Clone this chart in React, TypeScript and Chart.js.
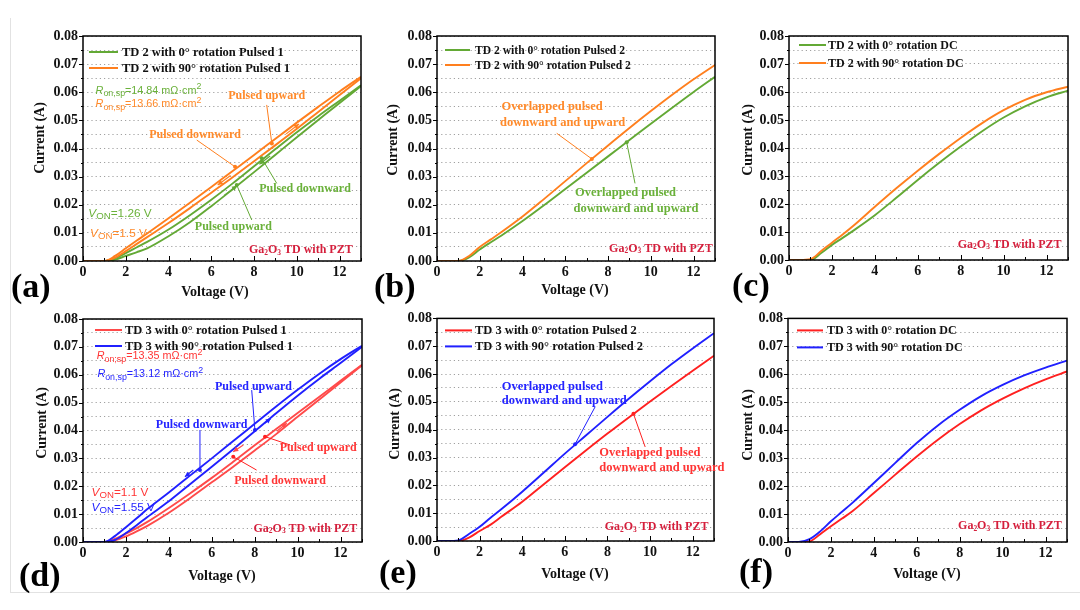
import { useEffect, useRef } from 'react';
import { Chart, registerables } from 'chart.js';

Chart.register(...registerables);

const SERIF = "'Liberation Serif', 'Times New Roman', serif";
const SANS = "'Liberation Sans', Arial, sans-serif";

const GREEN = '#63a935';
const ORANGE = '#ff7f1e';
const RED_D = '#ff4a4a';
const RED = '#ff2020';
const BLUE = '#2020ff';
const CRIMSON = '#d51f3c';
const GREEN_TXT = '#6ab13a';
const ORANGE_TXT = '#ff8a2a';
const RED_TXT = '#ff3535';
const BLUE_TXT = '#2424ff';

// ---------- data ----------
const VOLTAGE = [0, 0.5, 1, 1.5, 2, 2.5, 3, 4, 5, 6, 7, 8, 9, 10, 11, 12, 13];
const X_TICK_STEP = 2;
const Y_MAX = 0.08;

// (a) TD 2, Pulsed 1
const A_TD2_0_UP = [0, 0, 0, 0.0005, 0.0018, 0.0031, 0.0045, 0.0088, 0.0138, 0.0195, 0.0255, 0.0316, 0.0378, 0.044, 0.0501, 0.0562, 0.0622];
const A_TD2_0_DOWN = [0, 0, 0, 0.001, 0.0028, 0.0048, 0.0068, 0.0112, 0.0163, 0.0218, 0.0276, 0.0337, 0.0398, 0.0458, 0.0515, 0.057, 0.0625];
const A_TD2_90_UP = [0, 0, 0, 0.0012, 0.0035, 0.006, 0.0085, 0.0135, 0.0188, 0.0243, 0.0298, 0.0355, 0.0412, 0.047, 0.053, 0.059, 0.065];
const A_TD2_90_DOWN = [0, 0, 0, 0.0018, 0.0045, 0.0072, 0.0098, 0.0152, 0.0207, 0.0263, 0.032, 0.0377, 0.0435, 0.0492, 0.0548, 0.0603, 0.0655];
// (b) TD 2, Pulsed 2
const B_TD2_0 = [0, 0, 0, 0.0013, 0.0041, 0.0066, 0.009, 0.0142, 0.0198, 0.0256, 0.0314, 0.0372, 0.043, 0.0488, 0.0545, 0.0601, 0.0655];
const B_TD2_90 = [0, 0, 0, 0.0018, 0.005, 0.0076, 0.0102, 0.0158, 0.022, 0.0284, 0.0348, 0.0411, 0.0473, 0.0533, 0.0591, 0.0646, 0.0697];
// (c) TD 2, DC
const C_TD2_0 = [0, 0, 0, 0.0025, 0.0054, 0.0079, 0.0105, 0.016, 0.0222, 0.0286, 0.0347, 0.0405, 0.046, 0.0509, 0.0549, 0.0581, 0.0605];
const C_TD2_90 = [0, 0, 0.0003, 0.0032, 0.0062, 0.0091, 0.0122, 0.019, 0.0256, 0.0319, 0.0379, 0.0436, 0.0489, 0.0535, 0.0572, 0.0599, 0.0619];
// (d) TD 3, Pulsed 1
const D_TD3_0_UP = [0, 0, 0, 0.0006, 0.002, 0.0038, 0.0058, 0.0105, 0.0158, 0.0214, 0.027, 0.0328, 0.0387, 0.0449, 0.051, 0.0572, 0.0634];
const D_TD3_0_DOWN = [0, 0, 0, 0.0012, 0.003, 0.005, 0.0072, 0.0122, 0.0175, 0.023, 0.0288, 0.0347, 0.0405, 0.0463, 0.052, 0.0578, 0.0636];
const D_TD3_90_UP = [0, 0, 0, 0.0008, 0.0032, 0.006, 0.009, 0.0146, 0.0208, 0.027, 0.0333, 0.0397, 0.0462, 0.0525, 0.0585, 0.0642, 0.07];
const D_TD3_90_DOWN = [0, 0, 0, 0.0022, 0.0053, 0.0085, 0.0118, 0.0178, 0.0239, 0.03, 0.0362, 0.0424, 0.0486, 0.0546, 0.0603, 0.0656, 0.0704];
// (e) TD 3, Pulsed 2
const E_TD3_0 = [0, 0, 0, 0.0012, 0.0036, 0.0058, 0.0086, 0.0141, 0.0203, 0.0265, 0.0326, 0.0386, 0.0444, 0.0501, 0.0557, 0.0612, 0.0666];
const E_TD3_90 = [0, 0, 0.0002, 0.0025, 0.0051, 0.0083, 0.0113, 0.0177, 0.0245, 0.0314, 0.038, 0.0446, 0.0511, 0.0574, 0.0635, 0.0692, 0.0747];
// (f) TD 3, DC
const F_TD3_0 = [0, 0, 0.0002, 0.0028, 0.0056, 0.0083, 0.011, 0.0175, 0.0241, 0.0306, 0.0367, 0.0422, 0.0471, 0.0513, 0.055, 0.0582, 0.061];
const F_TD3_90 = [0, 0, 0.001, 0.0038, 0.0074, 0.0107, 0.014, 0.0211, 0.0283, 0.0354, 0.0418, 0.0473, 0.0522, 0.0562, 0.0596, 0.0624, 0.0649];

// ---------- text helpers ----------
type Run = { t: string; sub?: boolean; sup?: boolean; it?: boolean };
const ron = (val: string, sep = ','): Run[] => [
  { t: 'R', it: true },
  { t: `on${sep}sp`, sub: true },
  { t: `=${val} mΩ·cm` },
  { t: '2', sup: true },
];
const von = (val: string): Run[] => [{ t: 'V', it: true }, { t: 'ON', sub: true }, { t: `=${val} V` }];
const GA: Run[] = [{ t: 'Ga' }, { t: '2', sub: true }, { t: 'O' }, { t: '3', sub: true }, { t: ' TD with PZT' }];

type Txt = {
  v: number; i: number; runs: Run[]; color: string; size: number; family: string; weight: string;
  align: 'left' | 'center' | 'right'; base: CanvasTextBaseline; subScale?: number; subDy?: number;
};
type Seg = { v1: number; i1: number; v2: number; i2: number; color: string };
type Series = { data: number[]; color: string };
type Panel = {
  rect: [number, number, number, number];
  plot: [number, number, number, number];
  series: Series[];
  legend: { label: string; color: string }[];
  legendPos: { lx1: number; lx2: number; tx: number; rows: number[]; size: number };
  texts: Txt[];
  leaders: Seg[];
  arrows: Seg[];
  label: { t: string; x: number; y: number };
  yTitle: { x: number; y: number };
  xTitle?: { x: number; y: number };
};

const pulsed = (t: string, v: number, i: number, color: string, size = 12, align: 'left' | 'center' = 'center'): Txt => ({
  v, i, runs: [{ t }], color, size, family: SERIF, weight: 'bold', align, base: 'middle',
});
const sansTxt = (runs: Run[], v: number, i: number, color: string, size = 10.8): Txt => ({
  v, i, runs, color, size, family: SANS, weight: 'normal', align: 'left', base: 'alphabetic', subScale: 0.82, subDy: 0.22,
});
const gaTxt = (v: number, i: number): Txt => ({
  v, i, runs: GA, color: CRIMSON, size: 12, family: SERIF, weight: 'bold', align: 'right', base: 'alphabetic', subScale: 0.62, subDy: 0.12,
});

const YW = 40;
const XH = 28;

const PANELS: Panel[] = [
  {
    rect: [0, 0, 365, 305], plot: [83, 36, 361, 261],
    series: [
      { data: A_TD2_90_UP, color: ORANGE }, { data: A_TD2_90_DOWN, color: ORANGE },
      { data: A_TD2_0_UP, color: GREEN }, { data: A_TD2_0_DOWN, color: GREEN },
    ],
    legend: [{ label: 'TD 2 with 0° rotation Pulsed 1', color: GREEN }, { label: 'TD 2 with 90° rotation Pulsed 1', color: ORANGE }],
    legendPos: { lx1: 6, lx2: 35, tx: 39, rows: [16, 32], size: 12.5 },
    texts: [
      sansTxt(ron('14.84'), 0.59, 0.0594, GREEN_TXT),
      sansTxt(ron('13.66'), 0.59, 0.0546, ORANGE_TXT),
      sansTxt(von('1.26'), 0.25, 0.0158, GREEN_TXT, 11.8),
      sansTxt(von('1.5'), 0.33, 0.0086, ORANGE_TXT, 11.8),
      pulsed('Pulsed upward', 8.59, 0.0587, ORANGE_TXT),
      pulsed('Pulsed downward', 5.24, 0.0448, ORANGE_TXT),
      pulsed('Pulsed downward', 10.38, 0.0258, GREEN_TXT),
      pulsed('Pulsed upward', 7.03, 0.0122, GREEN_TXT),
      gaTxt(12.61, 0.0027),
    ],
    leaders: [
      { v1: 8.59, i1: 0.0555, v2: 8.83, i2: 0.0418, color: ORANGE },
      { v1: 5.32, i1: 0.043, v2: 7.11, i2: 0.0335, color: ORANGE },
      { v1: 9.06, i1: 0.0276, v2: 8.36, i2: 0.0365, color: GREEN },
      { v1: 7.89, i1: 0.0146, v2: 7.19, i2: 0.027, color: GREEN },
    ],
    arrows: [
      { v1: 9.5, i1: 0.0452, v2: 10.1, i2: 0.0487, color: ORANGE },
      { v1: 6.9, i1: 0.0304, v2: 6.3, i2: 0.027, color: ORANGE },
      { v1: 8.75, i1: 0.0373, v2: 8.25, i2: 0.0344, color: GREEN },
      { v1: 6.6, i1: 0.0233, v2: 7.2, i2: 0.0268, color: GREEN },
    ],
    label: { t: '(a)', x: 11, y: 297 },
    yTitle: { x: 40, y: 138 },
    xTitle: { x: 215, y: 292 },
  },
  {
    rect: [365, 0, 360, 305], plot: [437, 36, 715, 261],
    series: [{ data: B_TD2_90, color: ORANGE }, { data: B_TD2_0, color: GREEN }],
    legend: [{ label: 'TD 2 with 0° rotation Pulsed 2', color: GREEN }, { label: 'TD 2 with 90° rotation Pulsed 2', color: ORANGE }],
    legendPos: { lx1: 8, lx2: 33, tx: 38, rows: [14, 29], size: 11.6 },
    texts: [
      pulsed('Overlapped pulsed', 3.02, 0.0548, ORANGE_TXT, 12.5, 'left'),
      pulsed('downward and upward', 2.95, 0.049, ORANGE_TXT, 12.5, 'left'),
      pulsed('Overlapped pulsed', 6.45, 0.0243, GREEN_TXT, 12.5, 'left'),
      pulsed('downward and upward', 6.38, 0.0184, GREEN_TXT, 12.5, 'left'),
      gaTxt(12.9, 0.0032),
    ],
    leaders: [
      { v1: 5.6, i1: 0.0454, v2: 7.24, i2: 0.0363, color: ORANGE },
      { v1: 9.26, i1: 0.0276, v2: 8.87, i2: 0.0422, color: GREEN },
    ],
    arrows: [],
    label: { t: '(b)', x: 9, y: 297 },
    yTitle: { x: 28, y: 140 },
    xTitle: { x: 210, y: 290 },
  },
  {
    rect: [725, 0, 355, 305], plot: [789, 36, 1068, 260],
    series: [{ data: C_TD2_90, color: ORANGE }, { data: C_TD2_0, color: GREEN }],
    legend: [{ label: 'TD 2 with 0° rotation DC', color: GREEN }, { label: 'TD 2 with 90° rotation DC', color: ORANGE }],
    legendPos: { lx1: 10, lx2: 37, tx: 39, rows: [9, 27], size: 12 },
    texts: [gaTxt(12.7, 0.0043)],
    leaders: [],
    arrows: [],
    label: { t: '(c)', x: 7, y: 296 },
    yTitle: { x: 23, y: 140 },
  },
  {
    rect: [0, 305, 365, 305], plot: [83, 319, 362, 542],
    series: [
      { data: D_TD3_90_UP, color: BLUE }, { data: D_TD3_90_DOWN, color: BLUE },
      { data: D_TD3_0_UP, color: RED_D }, { data: D_TD3_0_DOWN, color: RED_D },
    ],
    legend: [{ label: 'TD 3 with 0° rotation Pulsed 1', color: RED_D }, { label: 'TD 3 with 90° rotation Pulsed 1', color: BLUE }],
    legendPos: { lx1: 12, lx2: 39, tx: 42, rows: [11, 27], size: 12.5 },
    texts: [
      sansTxt(ron('13.35', ';'), 0.64, 0.0655, RED_TXT),
      sansTxt(ron('13.12'), 0.67, 0.0591, BLUE_TXT),
      sansTxt(von('1.1'), 0.4, 0.0166, RED_TXT, 11.8),
      sansTxt(von('1.55'), 0.4, 0.0112, BLUE_TXT, 11.8),
      pulsed('Pulsed upward', 7.94, 0.0557, BLUE_TXT),
      pulsed('Pulsed downward', 5.53, 0.042, BLUE_TXT),
      pulsed('Pulsed upward', 10.96, 0.0338, RED_TXT),
      pulsed('Pulsed downward', 9.18, 0.0219, RED_TXT),
      gaTxt(12.78, 0.0037),
    ],
    leaders: [
      { v1: 7.86, i1: 0.0545, v2: 8.01, i2: 0.0402, color: BLUE },
      { v1: 5.45, i1: 0.0402, v2: 5.45, i2: 0.0258, color: BLUE },
      { v1: 9.65, i1: 0.0348, v2: 8.48, i2: 0.0378, color: RED },
      { v1: 8.09, i1: 0.0258, v2: 7.0, i2: 0.0306, color: RED },
    ],
    arrows: [
      { v1: 5.14, i1: 0.0258, v2: 4.75, i2: 0.0234, color: BLUE },
      { v1: 8.45, i1: 0.0425, v2: 8.75, i2: 0.0443, color: BLUE },
      { v1: 9.03, i1: 0.0397, v2: 9.49, i2: 0.0426, color: RED_D },
      { v1: 7.47, i1: 0.0348, v2: 7.0, i2: 0.0324, color: RED_D },
    ],
    label: { t: '(d)', x: 19, y: 281 },
    yTitle: { x: 42, y: 118 },
    xTitle: { x: 222, y: 271 },
  },
  {
    rect: [365, 305, 360, 305], plot: [437, 318, 714, 541],
    series: [{ data: E_TD3_90, color: BLUE }, { data: E_TD3_0, color: RED }],
    legend: [{ label: 'TD 3 with 0° rotation Pulsed 2', color: RED }, { label: 'TD 3 with 90° rotation Pulsed 2', color: BLUE }],
    legendPos: { lx1: 8, lx2: 35, tx: 38, rows: [12, 28], size: 12.5 },
    texts: [
      pulsed('Overlapped pulsed', 3.04, 0.0554, BLUE_TXT, 12.5, 'left'),
      pulsed('downward and upward', 3.04, 0.0503, BLUE_TXT, 12.5, 'left'),
      pulsed('Overlapped pulsed', 7.62, 0.0317, RED_TXT, 12.5, 'left'),
      pulsed('downward and upward', 7.62, 0.0264, RED_TXT, 12.5, 'left'),
      gaTxt(12.74, 0.0039),
    ],
    leaders: [
      { v1: 7.42, i1: 0.0482, v2: 6.48, i2: 0.0348, color: BLUE },
      { v1: 9.77, i1: 0.0338, v2: 9.22, i2: 0.0457, color: RED },
    ],
    arrows: [],
    label: { t: '(e)', x: 14, y: 278 },
    yTitle: { x: 30, y: 119 },
    xTitle: { x: 210, y: 269 },
  },
  {
    rect: [725, 305, 355, 305], plot: [788, 318, 1067, 542],
    series: [{ data: F_TD3_90, color: BLUE }, { data: F_TD3_0, color: RED }],
    legend: [{ label: 'TD 3 with 0° rotation DC', color: RED }, { label: 'TD 3 with 90° rotation DC', color: BLUE }],
    legendPos: { lx1: 9, lx2: 35, tx: 39, rows: [12, 29], size: 12 },
    texts: [gaTxt(12.76, 0.0046)],
    leaders: [],
    arrows: [],
    label: { t: '(f)', x: 14, y: 277 },
    yTitle: { x: 23, y: 120 },
    xTitle: { x: 202, y: 269 },
  },
];

function drawRich(ctx: CanvasRenderingContext2D, t: Txt, x: number, y: number) {
  const sc = t.subScale ?? 0.72;
  const sd = t.subDy ?? 0.22;
  const fontOf = (r: Run) =>
    `${r.it ? 'italic ' : ''}${t.weight} ${r.sub || r.sup ? t.size * sc : t.size}px ${t.family}`;
  let total = 0;
  for (const r of t.runs) {
    ctx.font = fontOf(r);
    total += ctx.measureText(r.t).width;
  }
  let cx = t.align === 'right' ? x - total : t.align === 'center' ? x - total / 2 : x;
  ctx.textAlign = 'left';
  ctx.textBaseline = t.base;
  ctx.fillStyle = t.color;
  for (const r of t.runs) {
    ctx.font = fontOf(r);
    const dy = r.sub ? t.size * sd : r.sup ? -t.size * 0.42 : 0;
    ctx.fillText(r.t, cx, y + dy);
    cx += ctx.measureText(r.t).width;
  }
}

function makePlugin(p: Panel) {
  return {
    id: 'panelDecor',
    afterDraw(chart: any) {
      const { ctx, chartArea: ca, scales } = chart;
      const X = (v: number) => scales.x.getPixelForValue(v);
      const Y = (i: number) => scales.y.getPixelForValue(i);
      ctx.save();
      const line = (x1: number, y1: number, x2: number, y2: number) => {
        ctx.beginPath();
        ctx.moveTo(x1, y1);
        ctx.lineTo(x2, y2);
        ctx.stroke();
      };
      // ticks
      ctx.strokeStyle = '#000';
      ctx.lineWidth = 1;
      for (let k = 0; k <= 16; k++) {
        const y = Math.round(Y((k * Y_MAX) / 16)) + 0.5;
        line(ca.left - (k % 2 === 0 ? 4 : 2), y, ca.left, y);
      }
      for (let v = 0; v <= 13; v++) {
        const x = Math.round(X(v)) + 0.5;
        line(x, ca.bottom, x, ca.bottom - (v % 2 === 0 ? 5 : 3));
      }
      // frame
      ctx.lineWidth = 1.5;
      ctx.strokeRect(ca.left, ca.top, ca.right - ca.left, ca.bottom - ca.top);
      // leaders
      for (const s of p.leaders) {
        ctx.strokeStyle = s.color;
        ctx.fillStyle = s.color;
        ctx.lineWidth = 1;
        line(X(s.v1), Y(s.i1), X(s.v2), Y(s.i2));
        ctx.beginPath();
        ctx.arc(X(s.v2), Y(s.i2), 2, 0, Math.PI * 2);
        ctx.fill();
      }
      // direction arrows
      for (const s of p.arrows) {
        const x1 = X(s.v1), y1 = Y(s.i1), x2 = X(s.v2), y2 = Y(s.i2);
        ctx.strokeStyle = s.color;
        ctx.fillStyle = s.color;
        ctx.lineWidth = 1.2;
        line(x1, y1, x2, y2);
        const a = Math.atan2(y2 - y1, x2 - x1);
        const L = 5, W = 2.5;
        ctx.beginPath();
        ctx.moveTo(x2, y2);
        ctx.lineTo(x2 - L * Math.cos(a) + W * Math.sin(a), y2 - L * Math.sin(a) - W * Math.cos(a));
        ctx.lineTo(x2 - L * Math.cos(a) - W * Math.sin(a), y2 - L * Math.sin(a) + W * Math.cos(a));
        ctx.closePath();
        ctx.fill();
      }
      // texts
      for (const t of p.texts) drawRich(ctx, t, X(t.v), Y(t.i));
      // legend
      const lp = p.legendPos;
      p.legend.forEach((l, k) => {
        const y = ca.top + lp.rows[k];
        ctx.strokeStyle = l.color;
        ctx.lineWidth = 2;
        line(ca.left + lp.lx1, y, ca.left + lp.lx2, y);
        ctx.fillStyle = '#111';
        ctx.font = `bold ${lp.size}px ${SERIF}`;
        ctx.textAlign = 'left';
        ctx.textBaseline = 'middle';
        ctx.fillText(l.label, ca.left + lp.tx, y + 0.5);
      });
      // axis titles
      ctx.fillStyle = '#111';
      ctx.font = `bold 14px ${SERIF}`;
      ctx.textAlign = 'center';
      ctx.textBaseline = 'middle';
      ctx.save();
      ctx.translate(p.yTitle.x, p.yTitle.y);
      ctx.rotate(-Math.PI / 2);
      ctx.fillText('Current (A)', 0, 0);
      ctx.restore();
      if (p.xTitle) ctx.fillText('Voltage (V)', p.xTitle.x, p.xTitle.y);
      // panel label
      ctx.font = `bold 34px ${SERIF}`;
      ctx.textAlign = 'left';
      ctx.textBaseline = 'alphabetic';
      ctx.fillStyle = '#000';
      ctx.fillText(p.label.t, p.label.x, p.label.y);
      ctx.restore();
    },
  };
}

function PanelChart({ p }: { p: Panel }) {
  const ref = useRef<HTMLCanvasElement>(null);
  useEffect(() => {
    const [cx, cy, cw, ch] = p.rect;
    const [L, T, R, B] = p.plot;
    const tickFont = { family: SERIF, weight: 'bold' as const, size: 14 };
    const chart = new Chart(ref.current!, {
      type: 'line',
      data: {
        datasets: p.series.map((s) => ({
          data: VOLTAGE.map((x, i) => ({ x, y: s.data[i] })),
          borderColor: s.color,
          borderWidth: 1.9,
          pointRadius: 0,
          fill: false,
          cubicInterpolationMode: 'monotone' as const,
        })),
      },
      options: {
        animation: false,
        responsive: false,
        maintainAspectRatio: false,
        layout: {
          padding: { left: L - cx - YW, top: T - cy, right: cx + cw - R, bottom: cy + ch - B - XH },
        },
        plugins: { legend: { display: false }, tooltip: { enabled: false } },
        scales: {
          x: {
            type: 'linear',
            min: 0,
            max: 13,
            afterFit: (s: any) => { s.height = XH; },
            grid: { display: false },
            border: { display: false },
            ticks: {
              stepSize: X_TICK_STEP,
              includeBounds: false,
              autoSkip: false,
              maxRotation: 0,
              padding: -5,
              color: '#111',
              font: tickFont,
            },
          },
          y: {
            type: 'linear',
            min: 0,
            max: Y_MAX,
            afterFit: (s: any) => { s.width = YW; },
            grid: { color: '#a0a0a0', lineWidth: 1, drawTicks: false },
            border: { display: false, dash: [1.2, 3] },
            ticks: {
              stepSize: 0.005,
              autoSkip: false,
              padding: 5,
              color: '#111',
              font: tickFont,
              callback: (v: any) => (Math.round(Number(v) * 1000) % 10 === 0 ? Number(v).toFixed(2) : ''),
            },
          },
        },
      },
      plugins: [makePlugin(p)],
    });
    return () => chart.destroy();
  }, [p]);
  const [cx, cy, cw, ch] = p.rect;
  return (
    <canvas
      ref={ref}
      width={cw}
      height={ch}
      style={{ position: 'absolute', left: cx, top: cy, width: cw, height: ch }}
    />
  );
}

export default function App() {
  return (
    <div style={{ position: 'absolute', left: 0, top: 0, width: 1080, height: 610, background: '#fff', overflow: 'hidden' }}>
      <div style={{ position: 'absolute', left: 10, top: 18, width: 1, height: 574, background: '#e2e2e2' }} />
      <div style={{ position: 'absolute', left: 10, top: 592, width: 1070, height: 1, background: '#e2e2e2' }} />
      {PANELS.map((p, k) => (
        <PanelChart key={k} p={p} />
      ))}
    </div>
  );
}
